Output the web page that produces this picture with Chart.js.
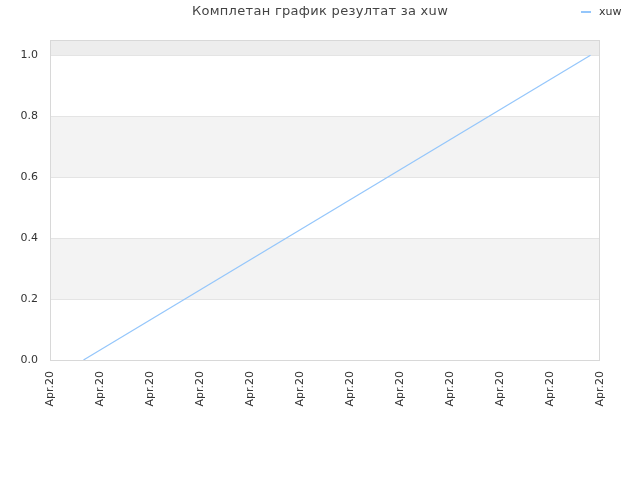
<!DOCTYPE html>
<html>
<head>
<meta charset="utf-8">
<script src="https://cdn.jsdelivr.net/npm/chart.js@4.4.0/dist/chart.umd.min.js"></script>
<style>
  html, body { margin: 0; padding: 0; background: #fff; }
  #wrap { width: 640px; height: 480px; position: relative; }
</style>
</head>
<body>
<div id="wrap"><canvas id="c" width="640" height="480"></canvas></div>
<script>
// Данни прочетени от картинката
const titleText = 'Комплетан график резултат за xuw';
const seriesName = 'xuw';
const tickLabels = ['Apr.20', 'Apr.20', 'Apr.20', 'Apr.20', 'Apr.20', 'Apr.20',
                    'Apr.20', 'Apr.20', 'Apr.20', 'Apr.20', 'Apr.20', 'Apr.20'];
const pointX = [0.67, 10.81];
const pointY = [0.0, 1.0];

const FONT = 'DejaVu Sans, sans-serif';
const LINE_COLOR = '#94c6fb';

// Ленти на фона, рамка, заглавие и легенда
const bands = {
  id: 'bands',
  beforeDraw(chart) {
    const { ctx, chartArea: a, scales: { y } } = chart;
    const fills = [
      [1.0, 1.05, '#ededed'],
      [0.6, 0.8, '#f3f3f3'],
      [0.2, 0.4, '#f3f3f3']
    ];
    ctx.save();
    fills.forEach(([lo, hi, col]) => {
      const top = Math.max(y.getPixelForValue(hi), a.top);
      const bot = y.getPixelForValue(lo);
      ctx.fillStyle = col;
      ctx.fillRect(a.left, top, a.right - a.left, bot - top);
    });
    ctx.restore();
  },
  afterDraw(chart) {
    const { ctx, chartArea: a } = chart;
    ctx.save();
    ctx.strokeStyle = '#d8d8d8';
    ctx.lineWidth = 1;
    ctx.strokeRect(a.left + 0.5, a.top + 0.5, a.right - a.left - 1, a.bottom - a.top);
    // заглавие
    ctx.fillStyle = '#444';
    ctx.font = '13px ' + FONT;
    ctx.textAlign = 'center';
    ctx.textBaseline = 'middle';
    if ('letterSpacing' in ctx) ctx.letterSpacing = '0.3px';
    ctx.fillText(titleText, 320, 12);
    if ('letterSpacing' in ctx) ctx.letterSpacing = '0px';
    // легенда
    ctx.strokeStyle = LINE_COLOR;
    ctx.lineWidth = 2;
    ctx.beginPath();
    ctx.moveTo(581, 12);
    ctx.lineTo(591, 12);
    ctx.stroke();
    ctx.fillStyle = '#333';
    ctx.font = '11px ' + FONT;
    ctx.textAlign = 'left';
    ctx.fillText(seriesName, 599, 12);
    ctx.restore();
  }
};

new Chart(document.getElementById('c'), {
  type: 'line',
  data: {
    datasets: [{
      label: seriesName,
      data: pointX.map((x, i) => ({ x, y: pointY[i] })),
      borderColor: LINE_COLOR,
      backgroundColor: LINE_COLOR,
      borderWidth: 1.2,
      pointRadius: 0,
      tension: 0,
      fill: false
    }]
  },
  options: {
    responsive: false,
    animation: false,
    layout: { padding: { top: 40, right: 40, left: 0, bottom: 0 } },
    plugins: {
      title: { display: false },
      tooltip: { enabled: false },
      legend: { display: false }
    },
    scales: {
      x: {
        type: 'linear',
        min: 0,
        max: 11,
        grid: { display: false },
        border: { display: false },
        ticks: {
          stepSize: 1,
          autoSkip: false,
          maxRotation: 90,
          minRotation: 90,
          color: '#333',
          font: { size: 11, family: FONT },
          callback: (v) => tickLabels[v]
        },
        afterFit(s) { s.height = 120; }
      },
      y: {
        min: 0,
        max: 1.05,
        grid: { color: '#e4e4e4', drawTicks: false },
        border: { display: false },
        ticks: {
          stepSize: 0.2,
          padding: 12,
          color: '#333',
          font: { size: 11, family: FONT },
          callback: (v) => (Math.abs(v * 5 - Math.round(v * 5)) < 1e-6 ? v.toFixed(1) : '')
        },
        afterFit(s) { s.width = 50; }
      }
    }
  },
  plugins: [bands]
});
</script>
</body>
</html>
